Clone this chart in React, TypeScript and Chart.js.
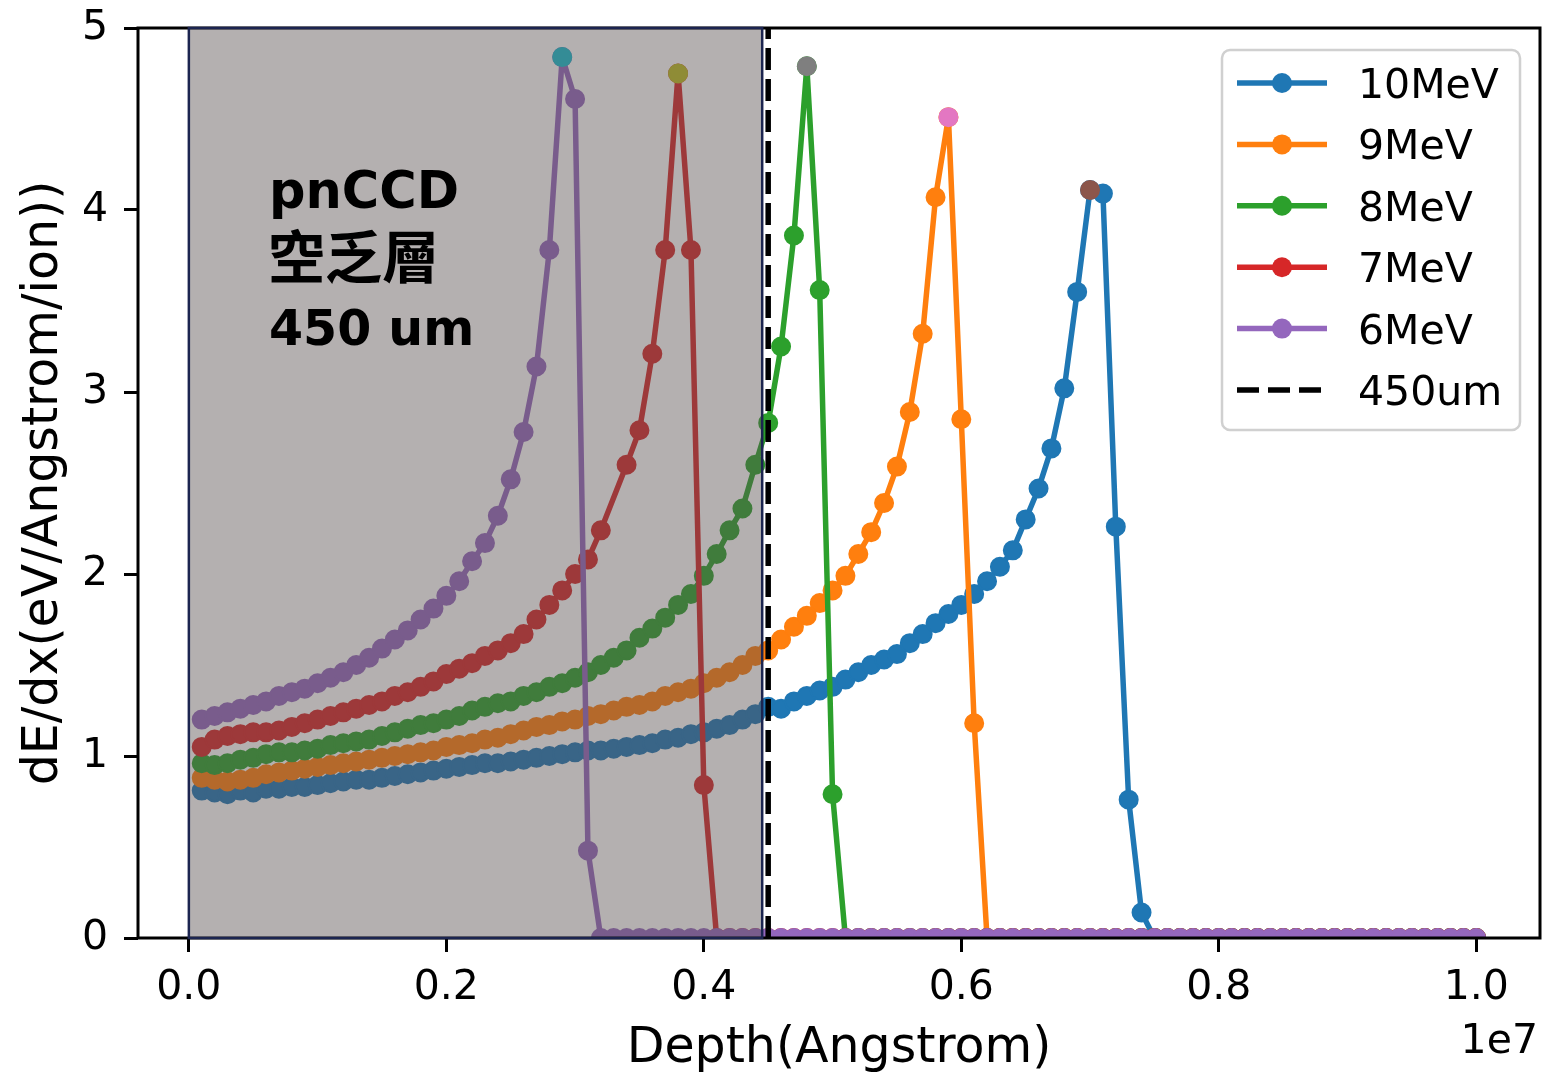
import React, { useEffect, useRef } from "react";
import { Chart, registerables } from "chart.js";

Chart.register(...registerables);

// Depth bins (Å): 100 bins of 1e5 Å each, from 1e5 to 1e7
const DEPTH_STEP = 1e5;
const DEPTH = Array.from({ length: 100 }, (_, i) => (i + 1) * DEPTH_STEP);

const SERIES_NAMES = ["10MeV", "9MeV", "8MeV", "7MeV", "6MeV"];
const LINE_COLORS = ["#1f77b4", "#ff7f0e", "#2ca02c", "#d62728", "#9467bd"];
const PEAK_COLORS = ["#8c564b", "#e377c2", "#7f7f7f", "#bcbd22", "#17becf"];

// dE/dx (eV/Angstrom/ion) per bin
const E10MEV = [
  0.81, 0.8, 0.79, 0.81, 0.8, 0.82, 0.82, 0.83, 0.83, 0.84,
  0.85, 0.86, 0.87, 0.87, 0.88, 0.89, 0.9, 0.91, 0.92, 0.93,
  0.94, 0.95, 0.96, 0.96, 0.97, 0.98, 0.99, 1.0, 1.01, 1.02,
  1.03, 1.03, 1.04, 1.05, 1.06, 1.07, 1.09, 1.1, 1.12, 1.13,
  1.15, 1.17, 1.2, 1.23, 1.27, 1.26, 1.3, 1.33, 1.36, 1.38,
  1.42, 1.46, 1.5, 1.53, 1.56, 1.62, 1.67, 1.73, 1.78, 1.83,
  1.89, 1.96, 2.04, 2.13, 2.3, 2.47, 2.69, 3.02, 3.55, 4.11,
  4.09, 2.26, 0.76, 0.14, 0, 0, 0, 0, 0, 0,
  0, 0, 0, 0, 0, 0, 0, 0, 0, 0,
  0, 0, 0, 0, 0, 0, 0, 0, 0, 0,
];

const E9MEV = [
  0.88, 0.87, 0.86, 0.87, 0.88, 0.9, 0.91, 0.92, 0.93, 0.94,
  0.95, 0.96, 0.97, 0.98, 0.99, 1.0, 1.01, 1.02, 1.03, 1.05,
  1.06, 1.07, 1.09, 1.1, 1.12, 1.14, 1.16, 1.17, 1.19, 1.2,
  1.22, 1.23, 1.25, 1.27, 1.28, 1.3, 1.33, 1.35, 1.37, 1.4,
  1.43, 1.46, 1.5, 1.55, 1.58, 1.64, 1.71, 1.77, 1.84, 1.91,
  1.99, 2.11, 2.23, 2.39, 2.59, 2.89, 3.32, 4.07, 4.51, 2.85,
  1.18, 0, 0, 0, 0, 0, 0, 0, 0, 0,
  0, 0, 0, 0, 0, 0, 0, 0, 0, 0,
  0, 0, 0, 0, 0, 0, 0, 0, 0, 0,
  0, 0, 0, 0, 0, 0, 0, 0, 0, 0,
];

const E8MEV = [
  0.96, 0.95, 0.96, 0.98, 0.99, 1.01, 1.02, 1.02, 1.03, 1.04,
  1.06, 1.07, 1.08, 1.09, 1.11, 1.13, 1.15, 1.17, 1.18, 1.2,
  1.22, 1.25, 1.27, 1.29, 1.3, 1.33, 1.35, 1.38, 1.4, 1.43,
  1.46, 1.5, 1.54, 1.58, 1.65, 1.7, 1.76, 1.83, 1.89, 1.99,
  2.11, 2.24, 2.36, 2.6, 2.83, 3.25, 3.86, 4.79, 3.56, 0.79,
  0, 0, 0, 0, 0, 0, 0, 0, 0, 0,
  0, 0, 0, 0, 0, 0, 0, 0, 0, 0,
  0, 0, 0, 0, 0, 0, 0, 0, 0, 0,
  0, 0, 0, 0, 0, 0, 0, 0, 0, 0,
  0, 0, 0, 0, 0, 0, 0, 0, 0, 0,
];

// the 7MeV run has no entry in the 0.33e7 bin
const E7MEV = [
  1.05, 1.09, 1.11, 1.12, 1.13, 1.13, 1.14, 1.16, 1.18, 1.2,
  1.22, 1.24, 1.26, 1.28, 1.3, 1.33, 1.35, 1.38, 1.41, 1.45,
  1.48, 1.51, 1.55, 1.58, 1.62, 1.67, 1.75, 1.83, 1.91, 2.0,
  2.08, 2.24, null, 2.6, 2.79, 3.21, 3.78, 4.75, 3.78, 0.84,
  0, 0, 0, 0, 0, 0, 0, 0, 0, 0,
  0, 0, 0, 0, 0, 0, 0, 0, 0, 0,
  0, 0, 0, 0, 0, 0, 0, 0, 0, 0,
  0, 0, 0, 0, 0, 0, 0, 0, 0, 0,
  0, 0, 0, 0, 0, 0, 0, 0, 0, 0,
  0, 0, 0, 0, 0, 0, 0, 0, 0, 0,
];

const E6MEV = [
  1.2, 1.22, 1.24, 1.26, 1.28, 1.3, 1.33, 1.35, 1.37, 1.4,
  1.43, 1.46, 1.5, 1.54, 1.59, 1.64, 1.69, 1.75, 1.81, 1.88,
  1.96, 2.07, 2.17, 2.32, 2.52, 2.78, 3.14, 3.78, 4.84, 4.61,
  0.48, 0, 0, 0, 0, 0, 0, 0, 0, 0,
  0, 0, 0, 0, 0, 0, 0, 0, 0, 0,
  0, 0, 0, 0, 0, 0, 0, 0, 0, 0,
  0, 0, 0, 0, 0, 0, 0, 0, 0, 0,
  0, 0, 0, 0, 0, 0, 0, 0, 0, 0,
  0, 0, 0, 0, 0, 0, 0, 0, 0, 0,
  0, 0, 0, 0, 0, 0, 0, 0, 0, 0,
];

const SERIES_VALUES: (number | null)[][] = [E10MEV, E9MEV, E8MEV, E7MEV, E6MEV];

// Depletion layer thickness: 450 um = 4.5e6 Å
const DEPLETION_DEPTH = 4.5e6;
const DEPLETION_LABEL = "450um";
const ANNOTATION_LINES = ["pnCCD", "空乏層", "450 um"];

// Axes
const X_MIN = -3.95e5;
const X_MAX = 1.0495e7;
const X_TICKS = [0, 2e6, 4e6, 6e6, 8e6, 1e7];
const X_OFFSET_TEXT = "1e7";
const Y_MIN = 0;
const Y_MAX = 5;
const X_TITLE = "Depth(Angstrom)";
const Y_TITLE = "dE/dx(eV/Angstrom/ion))";

const W = 1543;
const H = 1074;
const FONT = "'DejaVu Sans', sans-serif";

function peakIndex(vals: (number | null)[]) {
  let best = 0;
  vals.forEach((v, i) => {
    if (v !== null && v > (vals[best] as number)) best = i;
  });
  return best;
}

const decorPlugin = {
  id: "decor",
  afterDatasetsDraw(chart: any) {
    const { ctx, chartArea: a, scales } = chart;
    const xs = scales.x;
    ctx.save();

    // axes frame
    ctx.strokeStyle = "#000";
    ctx.lineWidth = 3;
    ctx.strokeRect(a.left, a.top, a.right - a.left, a.bottom - a.top);

    // translucent depletion-layer box
    const bx0 = xs.getPixelForValue(0);
    const bx1 = xs.getPixelForValue(DEPLETION_DEPTH) - 6;
    ctx.fillStyle = "rgba(88,80,80,0.45)";
    ctx.fillRect(bx0, a.top, bx1 - bx0, a.bottom - a.top);
    ctx.strokeStyle = "#1c2550";
    ctx.lineWidth = 2.5;
    ctx.strokeRect(bx0, a.top, bx1 - bx0, a.bottom - a.top);

    // box annotation
    ctx.fillStyle = "#000";
    ctx.textAlign = "left";
    ctx.textBaseline = "alphabetic";
    ctx.font = `bold 51px ${FONT}`;
    ctx.fillText(ANNOTATION_LINES[0], 269, 208);
    ctx.font = "bold 57px 'Noto Sans CJK TC', sans-serif";
    ctx.fillText(ANNOTATION_LINES[1], 268, 278);
    ctx.font = `bold 49px ${FONT}`;
    ctx.fillText(ANNOTATION_LINES[2], 269, 345);

    // axis titles
    ctx.font = `49px ${FONT}`;
    ctx.textAlign = "center";
    ctx.fillText(X_TITLE, (a.left + a.right) / 2, 1062);
    ctx.save();
    ctx.translate(57, (a.top + a.bottom) / 2);
    ctx.rotate(-Math.PI / 2);
    ctx.fillText(Y_TITLE, 0, 0);
    ctx.restore();

    // scale offset text
    ctx.font = `41px ${FONT}`;
    ctx.textAlign = "right";
    ctx.fillText(X_OFFSET_TEXT, a.right - 2, 1053);
    ctx.restore();
  },
  afterDraw(chart: any) {
    const { ctx } = chart;
    ctx.save();
    // legend frame
    ctx.beginPath();
    ctx.roundRect(1222, 50, 298, 380, 8);
    ctx.fillStyle = "rgba(255,255,255,0.8)";
    ctx.fill();
    ctx.strokeStyle = "#d0d0d0";
    ctx.lineWidth = 2.5;
    ctx.stroke();

    const rowY0 = 83;
    const rowStep = 61.4;
    const hx0 = 1237;
    const hx1 = 1327;
    const names = [...SERIES_NAMES, DEPLETION_LABEL];
    names.forEach((name, i) => {
      const y = rowY0 + i * rowStep;
      ctx.beginPath();
      ctx.moveTo(hx0, y);
      ctx.lineTo(hx1, y);
      if (i < SERIES_NAMES.length) {
        ctx.strokeStyle = LINE_COLORS[i];
        ctx.lineWidth = 5.5;
        ctx.setLineDash([]);
        ctx.stroke();
        ctx.beginPath();
        ctx.arc((hx0 + hx1) / 2, y, 10, 0, Math.PI * 2);
        ctx.fillStyle = LINE_COLORS[i];
        ctx.fill();
      } else {
        ctx.strokeStyle = "#000";
        ctx.lineWidth = 5.5;
        ctx.setLineDash([22, 9]);
        ctx.stroke();
        ctx.setLineDash([]);
      }
      ctx.fillStyle = "#000";
      ctx.font = `41px ${FONT}`;
      ctx.textAlign = "left";
      ctx.textBaseline = "alphabetic";
      ctx.fillText(name, 1358, y + 15);
    });
    ctx.restore();
  },
};

export default function App() {
  const ref = useRef<HTMLCanvasElement>(null);

  useEffect(() => {
    if (!ref.current) return;

    const lineSets = SERIES_VALUES.map((vals, k) => ({
      label: SERIES_NAMES[k],
      data: DEPTH.map((x, i) => ({ x, y: vals[i] })),
      borderColor: LINE_COLORS[k],
      backgroundColor: LINE_COLORS[k],
      pointBackgroundColor: LINE_COLORS[k],
      pointBorderColor: LINE_COLORS[k],
      borderWidth: 5.5,
      borderJoinStyle: "round",
      pointRadius: 9,
      pointBorderWidth: 2,
      tension: 0,
      spanGaps: true,
      clip: 0,
      order: 20 - k,
    }));

    const peakSets = SERIES_VALUES.map((vals, k) => {
      const idx = peakIndex(vals);
      return {
        label: `${SERIES_NAMES[k]} peak`,
        data: [{ x: DEPTH[idx], y: vals[idx] }],
        showLine: false,
        borderColor: PEAK_COLORS[k],
        backgroundColor: PEAK_COLORS[k],
        pointBackgroundColor: PEAK_COLORS[k],
        pointBorderColor: PEAK_COLORS[k],
        pointRadius: 9,
        pointBorderWidth: 2,
        clip: 0,
        order: 15 - k,
      };
    });

    const depletionLine = {
      label: DEPLETION_LABEL,
      data: [
        { x: DEPLETION_DEPTH, y: Y_MIN },
        { x: DEPLETION_DEPTH, y: Y_MAX },
      ],
      borderColor: "#000",
      borderWidth: 5.5,
      borderDash: [22, 9],
      pointRadius: 0,
      clip: 0,
      order: 10,
    };

    const chart = new Chart(ref.current, {
      type: "line",
      data: { datasets: [...lineSets, ...peakSets, depletionLine] as any },
      options: {
        animation: false,
        responsive: false,
        devicePixelRatio: 1,
        events: [],
        layout: {
          autoPadding: false,
          padding: { left: 0, right: 3, top: 28, bottom: 0 },
        },
        plugins: { legend: { display: false }, tooltip: { enabled: false } },
        scales: {
          x: {
            type: "linear",
            min: X_MIN,
            max: X_MAX,
            afterBuildTicks: (s: any) => {
              s.ticks = X_TICKS.map((v) => ({ value: v }));
            },
            afterFit: (s: any) => {
              s.height = H - 938;
              s.paddingLeft = 0;
              s.paddingRight = 0;
            },
            border: { display: false },
            grid: {
              drawOnChartArea: false,
              drawTicks: true,
              tickLength: 14,
              tickWidth: 3,
              tickColor: "#000",
            },
            ticks: {
              autoSkip: false,
              maxRotation: 0,
              padding: 12,
              color: "#000",
              font: { family: "DejaVu Sans", size: 41 },
              callback: (v: any) => (Number(v) / 1e7).toFixed(1),
            },
          },
          y: {
            type: "linear",
            min: Y_MIN,
            max: Y_MAX,
            afterFit: (s: any) => {
              s.width = 138;
              s.paddingTop = 0;
              s.paddingBottom = 0;
            },
            border: { display: false },
            grid: {
              drawOnChartArea: false,
              drawTicks: true,
              tickLength: 14,
              tickWidth: 3,
              tickColor: "#000",
            },
            ticks: {
              stepSize: 1,
              padding: 16,
              color: "#000",
              font: { family: "DejaVu Sans", size: 41 },
              callback: (v: any) => String(v),
            },
          },
        },
      },
      plugins: [decorPlugin],
    });

    return () => chart.destroy();
  }, []);

  return (
    <div
      style={{
        position: "fixed",
        left: 0,
        top: 0,
        width: W,
        height: H,
        background: "#fff",
      }}
    >
      <canvas ref={ref} width={W} height={H} style={{ display: "block" }} />
    </div>
  );
}
